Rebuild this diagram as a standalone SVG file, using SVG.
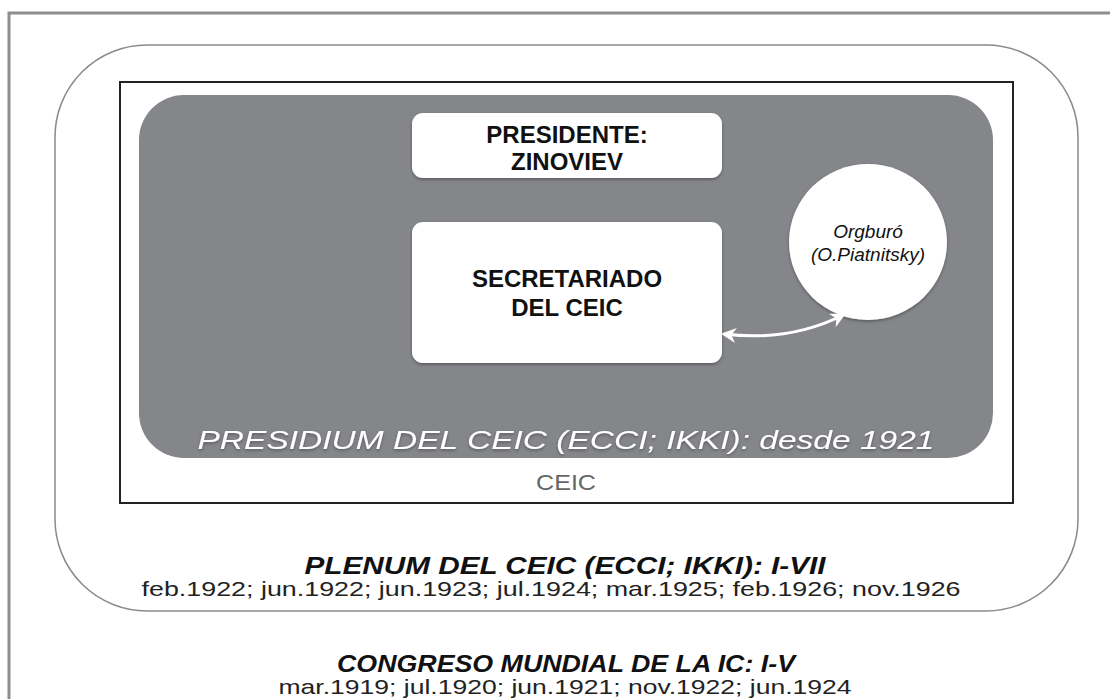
<svg xmlns="http://www.w3.org/2000/svg" width="1110" height="699" viewBox="0 0 1110 699">
<style>
text{font-family:"Liberation Sans",Arial,sans-serif;text-anchor:middle}
.box{fill:#fff}
.bt{font-size:24px;font-weight:bold;fill:#111}
.it{font-style:italic}
.dates{font-size:21px;fill:#222}
.hdr{font-size:24px;font-weight:bold;font-style:italic;fill:#111}
</style>
<defs>
<filter id="sh" x="-10%" y="-10%" width="120%" height="130%">
<feDropShadow dx="0" dy="1.5" stdDeviation="1.5" flood-color="#000" flood-opacity="0.35"/>
</filter>
<marker id="ah" viewBox="0 0 10 10" refX="8" refY="5" markerWidth="5" markerHeight="5" orient="auto-start-reverse">
<path d="M0,0 L10,5 L0,10 L3,5 z" fill="#fff"/>
</marker>
</defs>
<rect x="9" y="13" width="1120" height="720" fill="none" stroke="#8e8e8e" stroke-width="3"/>
<g id="plenum">
<rect x="55" y="45" width="1023" height="566" rx="92" ry="92" fill="none" stroke="#8a8a8a" stroke-width="1.5"/>
<text class="hdr" x="565" y="574" textLength="521" lengthAdjust="spacingAndGlyphs">PLENUM DEL CEIC (ECCI; IKKI): I-VII</text>
<text class="dates" x="551" y="596" textLength="819" lengthAdjust="spacingAndGlyphs">feb.1922; jun.1922; jun.1923; jul.1924; mar.1925; feb.1926; nov.1926</text>
</g>
<g id="ceic">
<rect x="120" y="82" width="893" height="421" fill="none" stroke="#222" stroke-width="2"/>
<text x="566" y="490" font-size="22" fill="#666" textLength="60" lengthAdjust="spacingAndGlyphs">CEIC</text>
</g>
<g id="presidium">
<rect x="139" y="95" width="854" height="363" rx="45" ry="45" fill="#85868a"/>
<text class="it" x="566" y="449" font-size="26" fill="#fff" filter="url(#sh)" textLength="737" lengthAdjust="spacingAndGlyphs">PRESIDIUM DEL CEIC (ECCI; IKKI): desde 1921</text>
</g>
<g id="presidente">
<rect class="box" x="412" y="113" width="310" height="65" rx="11" filter="url(#sh)"/>
<text class="bt" x="567" y="143">PRESIDENTE:</text>
<text class="bt" x="567" y="170">ZINOVIEV</text>
</g>
<g id="secretariado">
<rect class="box" x="412" y="222" width="310" height="141" rx="11" filter="url(#sh)"/>
<text class="bt" x="567" y="287">SECRETARIADO</text>
<text class="bt" x="567" y="316">DEL CEIC</text>
</g>
<g id="orgburo">
<ellipse cx="868" cy="242" rx="79" ry="78" fill="#fff" filter="url(#sh)"/>
<text class="it" x="868" y="238" font-size="19" fill="#111">Orgburó</text>
<text class="it" x="868" y="261" font-size="19" fill="#111">(O.Piatnitsky)</text>
</g>
<g id="connectors">
<path d="M724,334 Q790,342 843,315" fill="none" stroke="#fff" stroke-width="3" marker-start="url(#ah)" marker-end="url(#ah)"/>
</g>
<g id="congreso">
<text class="hdr" x="566" y="672" textLength="458" lengthAdjust="spacingAndGlyphs">CONGRESO MUNDIAL DE LA IC: I-V</text>
<text class="dates" x="565" y="694" textLength="573" lengthAdjust="spacingAndGlyphs">mar.1919; jul.1920; jun.1921; nov.1922; jun.1924</text>
</g>
</svg>
